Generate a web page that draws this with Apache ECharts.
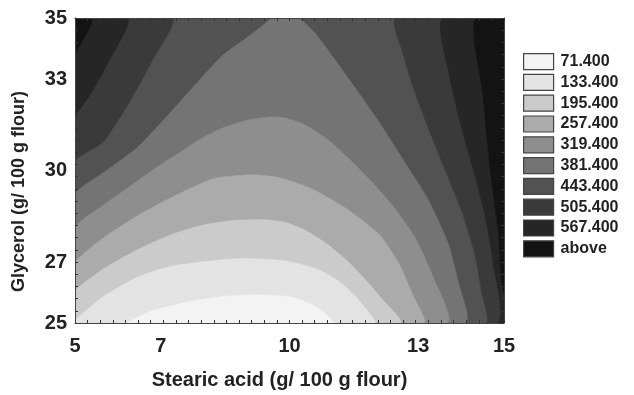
<!DOCTYPE html>
<html>
<head>
<meta charset="utf-8">
<script src="https://cdn.jsdelivr.net/npm/echarts@6/dist/echarts.min.js"></script>
<style>
  html, body { margin: 0; padding: 0; background: #fff; }
  #chart { width: 634px; height: 395px; }
</style>
</head>
<body>
<div id="chart"></div>
<script>
  // axes
  const xRange = [5, 15];
  const yRange = [25, 35];
  const xTickLabels = [5, 7, 10, 13, 15];
  const yTickLabels = [25, 27, 30, 33, 35];

  // legend levels, lightest first
  const levelNames = ['71.400', '133.400', '195.400', '257.400', '319.400',
                      '381.400', '443.400', '505.400', '567.400', 'above'];
  const levelColors = ['#f3f3f3', '#e3e3e3', '#cbcbcb', '#ababab', '#8e8e8e',
                       '#747474', '#525252', '#3a3a3a', '#262626', '#131313'];

  // contour lines, [stearic acid, glycerol]
  const c71 = [[6.17,25.00],[6.75,25.38],[7.56,25.67],[8.38,25.86],[9.20,25.93],[10.01,25.86],[10.48,25.64],[10.83,25.32],[11.06,25.00]];
  const c133 = [[5.00,25.10],[5.65,25.86],[6.45,26.50],[7.21,26.85],[7.98,27.01],[8.78,27.11],[9.55,27.08],[10.01,27.01],[10.66,26.76],[11.18,26.34],[11.53,25.89],[11.83,25.38],[11.99,25.00]];
  const c195 = [[5.00,26.05],[5.65,26.76],[6.45,27.40],[7.21,27.88],[7.91,28.19],[8.61,28.35],[9.38,28.39],[9.90,28.30],[10.40,28.02],[10.87,27.60],[11.30,27.10],[11.72,26.50],[12.15,25.80],[12.58,25.00]];
  const c257 = [[5.00,26.98],[5.65,27.78],[6.45,28.51],[7.21,29.09],[8.22,29.73],[9.15,29.86],[9.78,29.76],[10.55,29.38],[11.34,28.74],[12.11,27.88],[12.55,26.95],[12.88,25.90],[13.12,25.00]];
  const c319 = [[5.00,28.13],[5.65,28.85],[6.30,29.50],[6.90,30.10],[7.45,30.60],[7.95,31.05],[8.45,31.40],[9.00,31.65],[9.50,31.75],[9.90,31.72],[10.36,31.50],[10.90,31.00],[11.45,30.30],[12.00,29.50],[12.46,28.75],[12.93,27.80],[13.32,26.60],[13.67,25.00]];
  const c381 = [[5.00,29.22],[5.65,29.92],[6.45,30.75],[7.10,31.71],[7.75,32.73],[8.43,33.76],[8.95,34.30],[9.35,34.72],[9.60,35.00],[10.20,35.00],[10.60,34.50],[11.00,33.75],[11.46,32.85],[12.06,31.65],[12.76,30.11],[13.23,29.06],[13.69,27.65],[13.93,26.37],[14.09,25.00]];
  const c443L = [[7.28,35.00],[6.82,33.63],[6.28,32.25],[5.65,30.91],[5.00,30.27]];
  const c443R = [[14.56,25.00],[14.47,26.00],[14.30,27.30],[14.02,28.60],[13.65,29.90],[13.25,31.30],[12.88,32.70],[12.62,33.90],[12.46,35.00]];
  const c505L = [[6.24,35.00],[5.82,33.63],[5.35,32.44],[5.00,31.71]];
  const c505R = [[14.82,25.00],[14.74,26.90],[14.55,28.50],[14.28,30.00],[13.98,31.50],[13.72,33.10],[13.55,35.00]];
  const c567L = [[5.40,35.00],[5.00,33.72]];
  const c567R = [[15.00,25.96],[14.86,27.97],[14.67,30.02],[14.49,32.57],[14.32,35.00]];

  const x0 = xRange[0], x1 = xRange[1], y0 = yRange[0], y1 = yRange[1];
  // closing points just outside the frame (clipped away)
  const BL = [x0 - 1, y0 - 1], BR = [x1 + 1, y0 - 1];
  const TR = [x1 + 1, y1 + 1], TL = [x0 - 1, y1 + 1];

  // region below each level
  const regions = [
    c71.concat([BR, BL]),
    c133.concat([BL]),
    c195.concat([BL]),
    c257.concat([BL]),
    c319.concat([BL]),
    c381.concat([BL]),
    c443L.concat([BL], c443R, [TR, TL]),
    c505L.concat([BL], c505R, [TR, TL]),
    c567L.concat([BL, BR], c567R, [TR, TL]),
    [BL, BR, TR, TL]
  ];

  // minor ticks all round the frame
  const xMinor = [], yMinor = [];
  for (let i = 0; i <= 34; i++) xMinor.push(x0 + i * (x1 - x0) / 34);
  for (let i = 0; i <= 25; i++) yMinor.push(y0 + i * (y1 - y0) / 25);

  const font = 'Liberation Sans, Arial, sans-serif';

  // darkest drawn first
  const series = [];
  for (let k = regions.length - 1; k >= 0; k--) {
    const pts = regions[k];
    const color = levelColors[k];
    const smooth = k === regions.length - 1 ? 0 : 0.2;
    series.push({
      name: levelNames[k],
      type: 'custom',
      xAxisIndex: 0,
      yAxisIndex: 0,
      silent: true,
      clip: true,
      itemStyle: { color: color },
      data: [pts[0]],
      renderItem: function (params, api) {
        return {
          type: 'polygon',
          shape: { points: pts.map(function (p) { return api.coord(p); }), smooth: smooth },
          style: { fill: color, stroke: color, lineWidth: 0.5 }
        };
      }
    });
  }

  const frameAxis = function (pos, isX) {
    return {
      type: 'value',
      position: pos,
      min: isX ? x0 : y0,
      max: isX ? x1 : y1,
      axisLine: { show: true, onZero: false, lineStyle: { color: '#444', width: 1 } },
      axisTick: { show: true, inside: true, length: 3, customValues: isX ? xMinor : yMinor,
                  lineStyle: { color: '#333' } },
      axisLabel: { show: false },
      splitLine: { show: false },
      z: 5
    };
  };

  const myChart = echarts.init(document.getElementById('chart'));
  const option = {
    backgroundColor: '#fff',
    animation: false,
    textStyle: { fontFamily: font },
    grid: { left: 75, top: 18, width: 429, height: 311 },
    legend: {
      orient: 'vertical',
      left: 523,
      top: 53,
      padding: 0,
      icon: 'rect',
      itemWidth: 30,
      itemHeight: 16,
      itemGap: 3.6,
      data: levelNames,
      selectedMode: false,
      itemStyle: { borderColor: '#444', borderWidth: 1.2 },
      textStyle: { fontSize: 16, fontWeight: 'bold', color: '#222', fontFamily: font,
                  padding: [0, 0, 0, 2] }
    },
    xAxis: [
      Object.assign(frameAxis('bottom', true), {
        axisLabel: { show: true, customValues: xTickLabels, margin: 13,
                     fontSize: 20, fontWeight: 'bold', color: '#222', fontFamily: font },
        name: 'Stearic acid (g/ 100 g flour)',
        nameLocation: 'middle',
        nameGap: 47,
        nameTextStyle: { fontSize: 20, fontWeight: 'bold', color: '#222', fontFamily: font,
                         padding: [0, 20, 0, 0] }
      }),
      frameAxis('top', true)
    ],
    yAxis: [
      Object.assign(frameAxis('left', false), {
        axisLabel: { show: true, customValues: yTickLabels, margin: 8,
                     fontSize: 20, fontWeight: 'bold', color: '#222', fontFamily: font },
        name: 'Glycerol (g/ 100 g flour)',
        nameLocation: 'middle',
        nameGap: 47,
        nameTextStyle: { fontSize: 18, fontWeight: 'bold', color: '#222', fontFamily: font,
                         padding: [0, 42, 0, 0] }
      }),
      frameAxis('right', false)
    ],
    series: series
  };
  myChart.setOption(option);
</script>
</body>
</html>
